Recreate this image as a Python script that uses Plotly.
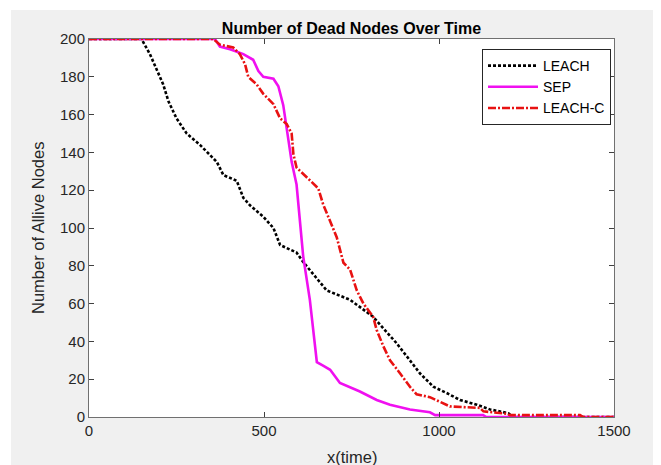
import plotly.graph_objects as go

# values
leach_x = [0, 150, 174, 212, 227, 250, 279, 317, 365, 384, 422, 441, 460,
           498, 527, 546, 593, 612, 679, 746, 812, 879, 946, 984, 1022,
           1060, 1108, 1146, 1198, 1210, 1500]
leach_y = [200, 200, 192, 176, 167, 158, 150, 144, 135, 128, 125, 116, 112,
           106, 100, 91, 87, 82, 67, 62, 53, 39, 23, 16, 12.7,
           9, 6.5, 4, 2, 0, 0]

sep_x = [0, 360, 374, 403, 441, 469, 484, 498, 527, 541, 555, 565, 579,
         593, 603, 612, 631, 651, 670, 689, 717, 774, 822, 860, 917, 974,
         989, 1126, 1135, 1500]
sep_y = [200, 200, 196, 194.6, 192, 189, 183, 180, 179, 175, 165, 153, 135,
         123, 105, 85, 62, 29, 27, 25, 18, 13.5, 9, 6.5, 4, 2.5,
         1, 1, 0, 0]

leachc_x = [0, 355, 374, 412, 431, 446, 455, 479, 498, 527, 546, 565, 579,
            584, 593, 631, 655, 669, 689, 708, 727, 746, 765, 784, 812, 822,
            841, 860, 889, 917, 936, 974, 1031, 1117, 1127, 1193, 1203,
            1403, 1412, 1500]
leachc_y = [200, 200, 197, 195.5, 192, 186.6, 180, 176, 171, 165.5, 158, 155,
            150, 139, 132, 125, 121, 112.5, 104, 95, 81.6, 78, 67, 60, 53, 46,
            37.4, 30, 23, 16, 12, 10.5, 5.6, 4.8, 3, 1.7, 1,
            1, 0, 0]

x_ticks = [0, 500, 1000, 1500]
y_ticks = [0, 20, 40, 60, 80, 100, 120, 140, 160, 180, 200]

FONT = "Liberation Sans, Arial, sans-serif"
W, H = 653, 457
M = {'l': 81, 'r': 47, 't': 31, 'b': 48}
PW = W - M['l'] - M['r']
PH = H - M['t'] - M['b']

fig = go.Figure()
fig.add_trace(go.Scatter(
    x=leach_x, y=leach_y, mode='lines', name="LEACH",
    line=dict(color="#000000", width=2.6, dash="3px,2px"),
))
fig.add_trace(go.Scatter(
    x=sep_x, y=sep_y, mode='lines', name="SEP",
    line=dict(color="#f010f0", width=2.6),
))
fig.add_trace(go.Scatter(
    x=leachc_x, y=leachc_y, mode='lines', name="LEACH-C",
    line=dict(color="#e81212", width=2.6, dash="8px,2px,2px,2px"),
))

axis_style = dict(showgrid=False, zeroline=False, showline=True,
                  linecolor="#707070", linewidth=1, mirror="ticks",
                  ticks="inside", ticklen=5, tickcolor="#404040",
                  tickfont=dict(family=FONT, size=15, color="#262626"))
fig.update_xaxes(range=[0, 1500], tickvals=x_ticks, **axis_style)
fig.update_yaxes(range=[0, 200], tickvals=y_ticks, **axis_style)

fig.update_layout(
    width=W, height=H, margin=M,
    paper_bgcolor="#ffffff", plot_bgcolor="#ffffff",
    font=dict(family=FONT, color="#262626"),
    title=dict(text="<b>Number of Dead Nodes Over Time</b>",
               x=0.5, xref="paper", y=1 - 20 / H, yref="container",
               yanchor="middle", xanchor="center",
               font=dict(family=FONT, size=16, color="#000000")),
    showlegend=True,
    legend=dict(x=(603 - M['l']) / PW, y=1 - (41 - M['t']) / PH,
                xanchor="right", yanchor="top",
                bgcolor="#ffffff", bordercolor="#262626", borderwidth=1,
                font=dict(family=FONT, size=14, color="#000000"),
                itemwidth=50, tracegroupgap=0),
)

# grey figure background with thin white strip at top/left
fig.add_shape(type="rect", xref="paper", yref="paper", layer="below",
              x0=(3 - M['l']) / PW, x1=(W - M['l']) / PW,
              y0=-M['b'] / PH, y1=1 + (M['t'] - 2) / PH,
              fillcolor="#f0f0f0", line=dict(width=0))
fig.add_shape(type="rect", xref="paper", yref="paper", layer="below",
              x0=0, x1=1, y0=0, y1=1,
              fillcolor="#ffffff", line=dict(width=0))

fig.add_annotation(text="x(time)", x=0.5, y=0, xref="paper", yref="paper",
                   xanchor="center", yanchor="middle", yshift=-39.5,
                   showarrow=False, font=dict(family=FONT, size=16.5))
fig.add_annotation(text="Number of Allive Nodes", x=0, y=0.5,
                   xref="paper", yref="paper", textangle=-90,
                   xanchor="center", yanchor="middle", xshift=-51,
                   showarrow=False, font=dict(family=FONT, size=16.5))

fig.write_html("out.html")
